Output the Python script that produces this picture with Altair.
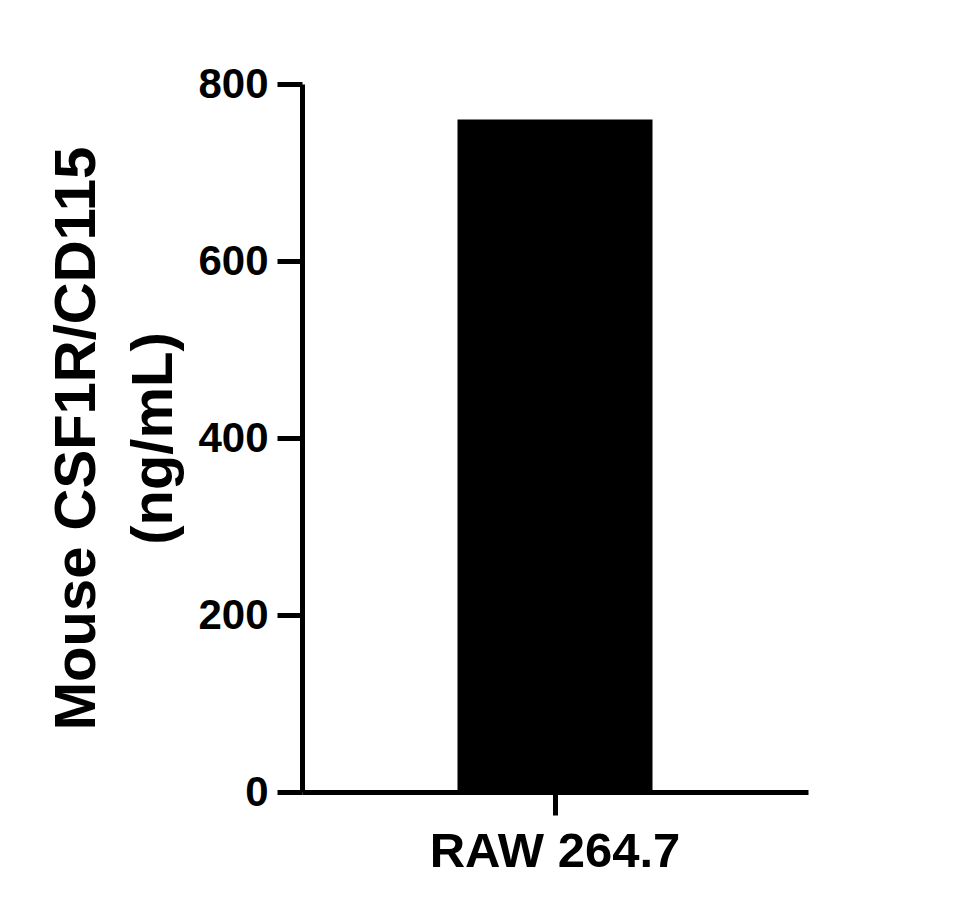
import altair as alt
import pandas as pd

categories = ["RAW 264.7"]
values = [760]
y_ticks = [0, 200, 400, 600, 800]

df = pd.DataFrame({"cell": categories, "conc": values})

FONT = "Liberation Sans"

chart = alt.Chart(df).mark_bar(size=195, color="black").encode(
    x=alt.X(
        "cell:N",
        title=None,
        axis=alt.Axis(
            labelAngle=0,
            labelFont=FONT,
            labelFontSize=49,
            labelFontWeight="bold",
            labelColor="black",
            labelPadding=12,
            labelLimit=0,
            domainColor="black",
            domainWidth=5,
            tickColor="black",
            tickWidth=5,
            tickSize=23,
            grid=False,
        ),
    ),
    y=alt.Y(
        "conc:Q",
        scale=alt.Scale(domain=[0, 800], nice=False, zero=True),
        axis=alt.Axis(
            values=y_ticks,
            title=["Mouse CSF1R/CD115", "(ng/mL)"],
            titleFont=FONT,
            titleFontSize=58,
            titleFontWeight="bold",
            titleColor="black",
            titleLineHeight=77,
            titleBaseline="middle",
            titleAlign="center",
            titleAngle=270,
            titleX=-225,
            labelFont=FONT,
            labelFontSize=42,
            labelFontWeight="bold",
            labelColor="black",
            labelPadding=9,
            domainColor="black",
            domainWidth=5,
            tickColor="black",
            tickWidth=5,
            tickSize=25,
            grid=False,
        ),
    ),
).properties(
    width=506,
    height=708,
    padding={"left": 294, "top": 76, "right": 100, "bottom": 100},
    autosize=alt.AutoSizeParams(type="none"),
).configure(
    background="white",
    view=alt.ViewConfig(strokeWidth=0, stroke="transparent"),
)

chart.save("out.html", embed_options={"renderer": "svg", "actions": False})
